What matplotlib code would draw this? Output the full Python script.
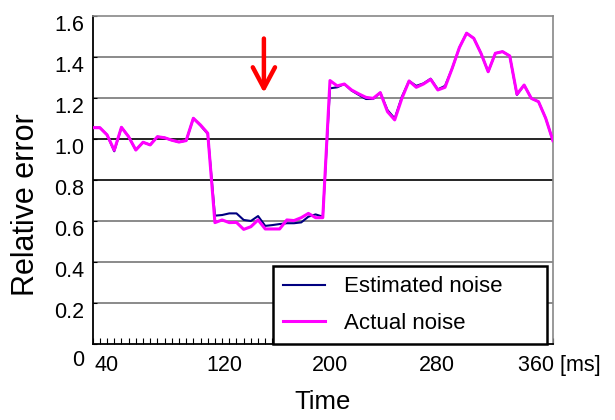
import numpy as np
import matplotlib
matplotlib.use('Agg')
import matplotlib.pyplot as plt
from matplotlib.transforms import ScaledTranslation

plt.rcParams['font.family'] = ['Liberation Sans', 'DejaVu Sans']

# sample times [ms], one sample every ~5.4 ms
times = np.linspace(21.2, 367.4, 65)

estimated = [1.055, 1.055, 1.02, 0.94, 1.057, 1.011, 0.946, 0.984, 0.971, 1.011,
             1.006, 0.994, 0.985, 0.992, 1.101, 1.065, 1.025,
             0.626, 0.629, 0.637, 0.637, 0.605, 0.600, 0.624, 0.576, 0.580,
             0.585, 0.589, 0.589, 0.593, 0.621, 0.632, 0.621,
             1.247, 1.252, 1.268, 1.236, 1.215, 1.195, 1.195, 1.226, 1.141,
             1.100, 1.206, 1.283, 1.259, 1.271, 1.294, 1.242, 1.259,
             1.345, 1.446, 1.516, 1.491, 1.418, 1.328, 1.418, 1.426, 1.405,
             1.215, 1.263, 1.198, 1.182, 1.101, 0.992]

actual = [1.055, 1.055, 1.02, 0.945, 1.057, 1.011, 0.946, 0.984, 0.971, 1.011,
          1.006, 0.994, 0.985, 0.992, 1.101, 1.068, 1.028,
          0.592, 0.605, 0.592, 0.593, 0.559, 0.572, 0.605, 0.561, 0.561,
          0.561, 0.605, 0.602, 0.616, 0.637, 0.616, 0.616,
          1.285, 1.259, 1.268, 1.239, 1.220, 1.203, 1.198, 1.226, 1.133,
          1.093, 1.198, 1.283, 1.252, 1.268, 1.291, 1.239, 1.252,
          1.345, 1.446, 1.516, 1.491, 1.418, 1.328, 1.418, 1.426, 1.405,
          1.218, 1.263, 1.198, 1.182, 1.101, 0.992]

xtick_vals = [40, 120, 200, 280, 360]
xtick_labels = ['40', '120', '200', '280', '360 [ms]']
ytick_vals = [0, 0.2, 0.4, 0.6, 0.8, 1.0, 1.2, 1.4, 1.6]
ytick_labels = ['0', '0.2', '0.4', '0.6', '0.8', '1.0', '1.2', '1.4', '1.6']

# arrow marking the event
arrow_t = 150
arrow_top, arrow_tip = 1.49, 1.225

fig = plt.figure(figsize=(6.15, 4.2), dpi=100)
ax = fig.add_axes([0.1507, 0.181, 0.7483, 0.781])

# horizontal grid, some darker
for v in ytick_vals[1:-1]:
    c = 'black' if v in (0.8, 1.0) else '#777777'
    ax.axhline(v, color=c, lw=1.2, zorder=1)

ax.plot(times, estimated, color='#000080', lw=1.5, label='Estimated noise', zorder=3)
ax.plot(times, actual, color='#FF00FF', lw=2.2, label='Actual noise', zorder=4)

ax.annotate('', xy=(arrow_t, arrow_tip), xytext=(arrow_t, arrow_top),
            arrowprops=dict(arrowstyle='->,head_length=1.5,head_width=0.8',
                            color='red', lw=3.2, shrinkA=0, shrinkB=0))

ax.set_xlim(times[0], times[-1])
ax.set_ylim(0, 1.6)

ax.set_xticks(xtick_vals)
ax.set_xticklabels(xtick_labels, fontsize=15.5)
ax.set_xticks(times, minor=True)
ax.tick_params(axis='x', which='major', length=0, pad=8)
ax.tick_params(axis='x', which='minor', direction='in', length=4, width=0.8)
ax.set_yticks(ytick_vals)
ax.set_yticklabels(ytick_labels, fontsize=15.5)
ax.tick_params(axis='y', direction='in', length=3, pad=6)

# nudge labels like the original
xl = ax.get_xticklabels()
xl[0].set_transform(xl[0].get_transform() + ScaledTranslation(-8 / 72, 0, fig.dpi_scale_trans))
xl[-1].set_ha('left')
xl[-1].set_transform(xl[-1].get_transform() + ScaledTranslation(-18 / 72, 0, fig.dpi_scale_trans))
for i, lab in enumerate(ax.get_yticklabels()):
    dy = -10 if i == 0 else -5
    lab.set_transform(lab.get_transform() + ScaledTranslation(0, dy / 72, fig.dpi_scale_trans))

for s in ['top', 'right']:
    ax.spines[s].set_color('#888888')
    ax.spines[s].set_linewidth(1.2)
for s in ['left', 'bottom']:
    ax.spines[s].set_color('black')
    ax.spines[s].set_linewidth(1.3)

ax.set_xlabel('Time', fontsize=18.5)
ax.xaxis.set_label_coords(0.5, -0.14)
ax.set_ylabel('Relative error', fontsize=22)
ax.yaxis.set_label_coords(-0.113, 0.424)

leg = ax.legend(loc='lower left', bbox_to_anchor=(0.392, 0.0, 0.595, 0.229),
                mode='expand', borderaxespad=0, fancybox=False, fontsize=16,
                handlelength=1.9, handletextpad=0.85, labelspacing=0.7,
                borderpad=0.45)
leg.get_frame().set_edgecolor('black')
leg.get_frame().set_linewidth(1.8)
leg.get_frame().set_alpha(1)

fig.savefig('out.png', dpi=100)
